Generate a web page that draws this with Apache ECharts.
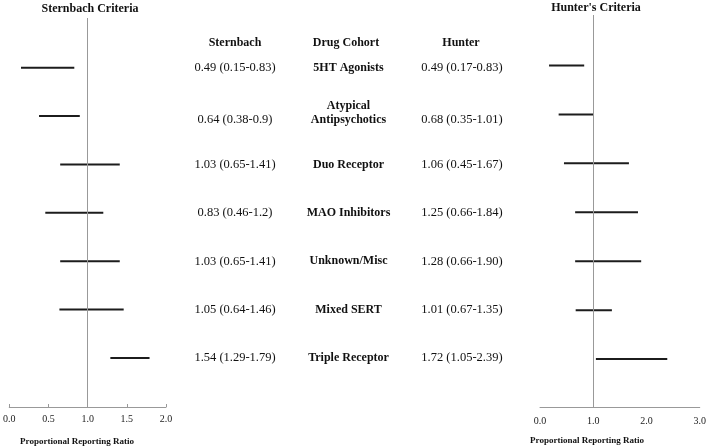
<!DOCTYPE html>
<html>
<head>
<meta charset="utf-8">
<script src="https://cdn.jsdelivr.net/npm/echarts@6/dist/echarts.min.js"></script>
<style>html,body{margin:0;padding:0;background:#fff}#c{width:709px;height:448px}</style>
</head>
<body>
<div id="c"></div>
<script>
// ---- data ----
const cohorts = ['5HT Agonists', 'Atypical\nAntipsychotics', 'Duo Receptor', 'MAO Inhibitors', 'Unknown/Misc', 'Mixed SERT', 'Triple Receptor'];
const sternPRR  = [0.49, 0.64, 1.03, 0.83, 1.03, 1.05, 1.54];
const sternLow  = [0.15, 0.38, 0.65, 0.46, 0.65, 0.64, 1.29];
const sternHigh = [0.83, 0.90, 1.41, 1.20, 1.41, 1.46, 1.79];
const hunterPRR  = [0.49, 0.68, 1.06, 1.25, 1.28, 1.01, 1.72];
const hunterLow  = [0.17, 0.35, 0.45, 0.66, 0.66, 0.67, 1.05];
const hunterHigh = [0.83, 1.01, 1.67, 1.84, 1.90, 1.35, 2.39];
const sternText  = ['0.49 (0.15-0.83)', '0.64 (0.38-0.9)', '1.03 (0.65-1.41)', '0.83 (0.46-1.2)', '1.03 (0.65-1.41)', '1.05 (0.64-1.46)', '1.54 (1.29-1.79)'];
const hunterText = ['0.49 (0.17-0.83)', '0.68 (0.35-1.01)', '1.06 (0.45-1.67)', '1.25 (0.66-1.84)', '1.28 (0.66-1.90)', '1.01 (0.67-1.35)', '1.72 (1.05-2.39)'];
const leftTicks = [0, 0.5, 1, 1.5, 2];
const rightTicks = [0, 1, 2, 3];
const refValue = 1;

const SERIF = '"Liberation Serif","Times New Roman",serif';
const chart = echarts.init(document.getElementById('c'));

function ciRender(params, api) {
  const a = api.coord([api.value(0), api.value(2)]);
  const b = api.coord([api.value(1), api.value(2)]);
  return { type: 'line', shape: { x1: a[0], y1: a[1], x2: b[0], y2: b[1] },
           style: { stroke: '#1c1c1c', lineWidth: 2 } };
}
const columns = [sternText, cohorts, hunterText];
function textRender(params, api) {
  const col = api.value(0), row = api.value(1);
  const p = api.coord([col, row]);
  const multi = cohorts[row].indexOf('\n') >= 0;
  let dy = 0;
  if (multi) dy = (col === 1) ? -3 : 4;
  return { type: 'text', x: p[0], y: p[1] + dy,
    style: { text: columns[col][row], align: 'center', verticalAlign: 'middle',
      fontFamily: SERIF, fontSize: col === 1 ? 12 : 12.5, fontWeight: col === 1 ? 'bold' : 'normal',
      lineHeight: 14, fill: '#111' } };
}

function txt(text, x, y, size) {
  return { type: 'text', style: { text: text, x: x, y: y, align: 'center', verticalAlign: 'middle',
    fontFamily: SERIF, fontSize: size, fontWeight: 'bold', fill: '#111' } };
}

const option = {
  animation: false,
  backgroundColor: '#fff',
  grid: [
    { left: 6, right: 543, top: 18, bottom: 41 },
    { left: 540, right: 6, top: 15, bottom: 41 },
    { left: 180, right: 209, top: 18, bottom: 41 }
  ],
  xAxis: [
    { gridIndex: 0, type: 'value', min: leftTicks[0], max: leftTicks[leftTicks.length - 1], interval: 0.5,
      axisLine: { show: true, onZero: false, lineStyle: { color: '#999', width: 1 } },
      axisTick: { show: true, inside: true, length: 3, lineStyle: { color: '#999' } },
      splitLine: { show: false },
      axisLabel: { margin: 7, color: '#222', fontFamily: SERIF, fontSize: 10, formatter: v => v.toFixed(1) } },
    { gridIndex: 1, type: 'value', min: rightTicks[0], max: rightTicks[rightTicks.length - 1], interval: 1,
      axisLine: { show: true, onZero: false, lineStyle: { color: '#999', width: 1 } },
      axisTick: { show: false }, splitLine: { show: false },
      axisLabel: { margin: 9, color: '#222', fontFamily: SERIF, fontSize: 10, formatter: v => v.toFixed(1) } },
    { gridIndex: 2, type: 'value', min: -0.485, max: 2.335, show: false }
  ],
  yAxis: [
    { gridIndex: 0, type: 'value', inverse: true, min: -1.027, max: 7.013, show: false },
    { gridIndex: 1, type: 'value', inverse: true, min: -1.032, max: 6.98, show: false },
    { gridIndex: 2, type: 'value', inverse: true, min: -1.027, max: 7.013, show: false }
  ],
  graphic: [
    txt('Sternbach Criteria', 90, 9, 12),
    txt("Hunter's Criteria", 596, 8, 12),
    txt('Proportional Reporting Ratio', 77, 442, 9),
    txt('Proportional Reporting Ratio', 587, 441, 9),
    txt('Sternbach', 235, 43, 12),
    txt('Drug Cohort', 346, 43, 12),
    txt('Hunter', 461, 43, 12)
  ],
  series: [
    { type: 'custom', xAxisIndex: 0, yAxisIndex: 0, renderItem: ciRender,
      data: sternLow.map((l, i) => [l, sternHigh[i], i, sternPRR[i]]),
      markLine: { silent: true, symbol: 'none', label: { show: false },
        lineStyle: { color: '#999', width: 1, type: 'solid' }, data: [{ xAxis: refValue }] } },
    { type: 'custom', xAxisIndex: 1, yAxisIndex: 1, renderItem: ciRender,
      data: hunterLow.map((l, i) => [l, hunterHigh[i], i, hunterPRR[i]]),
      markLine: { silent: true, symbol: 'none', label: { show: false },
        lineStyle: { color: '#999', width: 1, type: 'solid' }, data: [{ xAxis: refValue }] } },
    { type: 'custom', xAxisIndex: 2, yAxisIndex: 2, renderItem: textRender,
      data: [].concat(...[0, 1, 2].map(c => cohorts.map((_, i) => [c, i]))) }
  ]
};
chart.setOption(option);
</script>
</body>
</html>
